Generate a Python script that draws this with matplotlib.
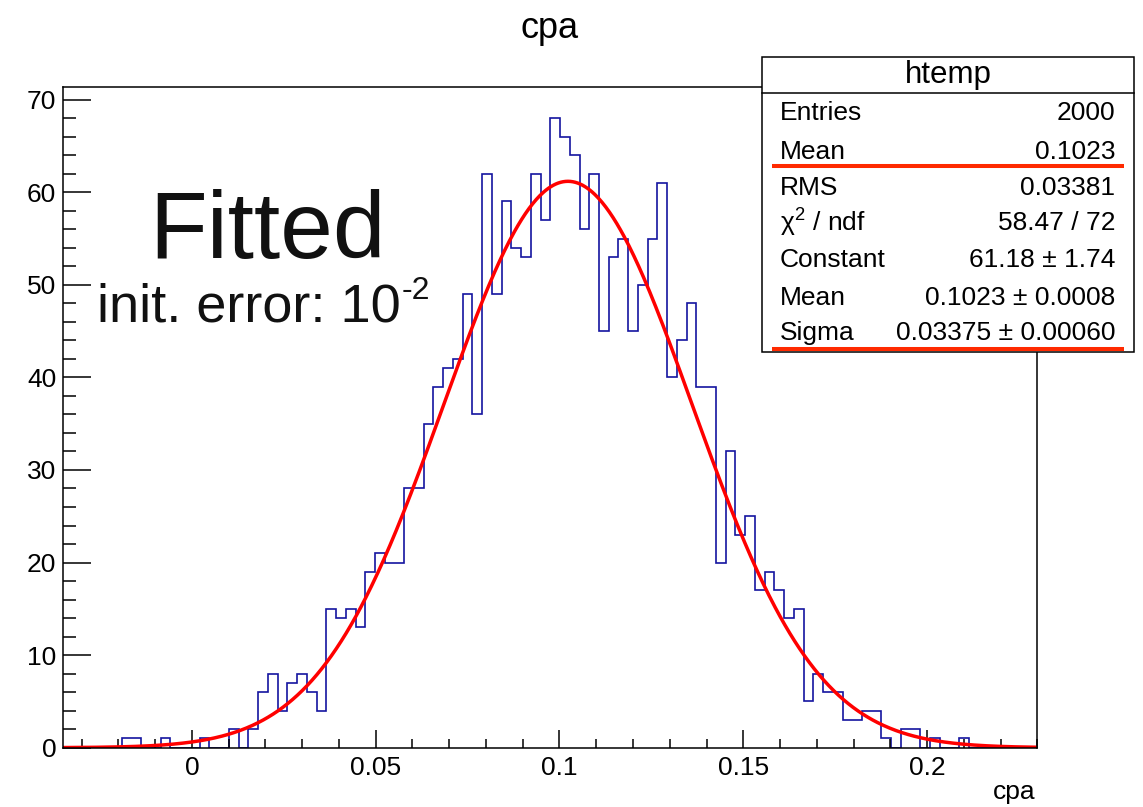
import numpy as np
import matplotlib
matplotlib.use("Agg")
import matplotlib.pyplot as plt
from matplotlib.patches import Rectangle
from matplotlib.lines import Line2D
from matplotlib.ticker import MultipleLocator

# ---------------- data ----------------
XMIN, XMAX, NBINS = -0.035, 0.23, 100
counts = [0, 0, 0, 0, 0, 0, 1, 1, 0, 0,
          1, 0, 0, 0, 1, 0, 0, 2, 0, 2,
          6, 8, 4, 7, 8, 6, 4, 15, 14, 15,
          13, 19, 21, 20, 20, 28, 28, 35, 39, 41,
          42, 49, 36, 62, 49, 59, 54, 53, 62, 57,
          68, 66, 64, 56, 62, 45, 53, 55, 45, 50,
          55, 61, 40, 44, 48, 39, 39, 20, 32, 23,
          25, 17, 19, 17, 14, 15, 5, 8, 6, 6,
          3, 3, 4, 4, 1, 0, 2, 2, 0, 1,
          0, 0, 1, 0, 0, 0, 0, 0, 0, 0]
fit_constant = 61.18
fit_mean = 0.1023
fit_sigma = 0.03375

xtick_values = [0, 0.05, 0.1, 0.15, 0.2]
xtick_labels = ["0", "0.05", "0.1", "0.15", "0.2"]

stats_title = "htemp"
stats_names = ["Entries", "Mean", "RMS", "χ$^{2}$ / ndf", "Constant", "Mean", "Sigma"]
stats_values = ["2000", "0.1023", "0.03381", "58.47 / 72", "61.18 ± 1.74",
                "0.1023 ± 0.0008", "0.03375 ± 0.00060"]
underlined_rows = [1, 6]

note_big = "Fitted"
note_small = "init. error: 10"
note_exponent = "-2"

# ---------------- figure ----------------
W, H = 1143, 807
plt.rcParams['font.family'] = ['Liberation Sans', 'DejaVu Sans']
plt.rcParams['mathtext.default'] = 'regular'
fig = plt.figure(figsize=(W / 100, H / 100), dpi=100)


def fx(x):
    return x / W


def fy(y):
    return 1 - y / H


ax = fig.add_axes([fx(63.3), fy(747.7), 974 / W, 661 / H])
edges = np.linspace(XMIN, XMAX, NBINS + 1)
ax.stairs(counts, edges, color="#1414a0", lw=1.2, baseline=0)

xs = np.linspace(XMIN, XMAX, 800)
ax.plot(xs, fit_constant * np.exp(-0.5 * ((xs - fit_mean) / fit_sigma) ** 2),
        color="#ff0000", lw=2.5)

ax.set_xlim(XMIN, XMAX)
ax.set_ylim(0, 1.05 * max(counts))
ax.set_xticks(xtick_values)
ax.set_xticklabels(xtick_labels)
ax.xaxis.set_minor_locator(MultipleLocator(0.01))
ax.yaxis.set_major_locator(MultipleLocator(10))
ax.yaxis.set_minor_locator(MultipleLocator(2))
ax.tick_params(which="both", direction="in", top=False, right=False,
               width=1.1, labelsize=19, colors="black")
ax.tick_params(axis="x", which="major", length=13, pad=6)
ax.tick_params(axis="x", which="minor", length=6.5)
ax.tick_params(axis="y", which="major", length=20, pad=5)
ax.tick_params(axis="y", which="minor", length=9.5)
for s in ax.spines.values():
    s.set_linewidth(1.1)

# titles
fig.text(fx(550), fy(28), "cpa", ha="center", va="center", fontsize=26)
fig.text(fx(1036), fy(792), "cpa", ha="right", va="center", fontsize=19)

# annotations
fig.text(fx(149), fy(258), note_big, ha="left", va="baseline", fontsize=68,
         color="#111111")
t_small = fig.text(fx(97), fy(321), note_small, ha="left", va="baseline",
                   fontsize=39, color="#111111")
fig.canvas.draw()
bb = t_small.get_window_extent()
fig.text(fx(bb.x1 + 1), fy(299), note_exponent, ha="left", va="baseline",
         fontsize=23, color="#111111")

# stats box
bx0, by0, bx1, by1 = 761.7, 57.3, 1134.3, 351.7
box = Rectangle((fx(bx0), fy(by1)), (bx1 - bx0) / W, (by1 - by0) / H,
                transform=fig.transFigure, facecolor="white", edgecolor="black",
                lw=1.1, zorder=10)
fig.add_artist(box)
fig.add_artist(Line2D([fx(bx0), fx(bx1)], [fy(92.5), fy(92.5)],
                      transform=fig.transFigure, color="black", lw=1.1, zorder=11))
fig.text(fx((bx0 + bx1) / 2), fy(75), stats_title, ha="center", va="center",
         fontsize=22.5, zorder=12)
row_y = [113.3, 151.7, 188.3, 223, 260, 298.3, 333.3]
for i, (n, v) in enumerate(zip(stats_names, stats_values)):
    fig.text(fx(780), fy(row_y[i]), n, ha="left", va="center", fontsize=19, zorder=12)
    fig.text(fx(1115), fy(row_y[i]), v, ha="right", va="center", fontsize=19, zorder=12)
underline_y = {1: 166, 6: 349.3}
for r in underlined_rows:
    fig.add_artist(Line2D([fx(771.7), fx(1124)], [fy(underline_y[r])] * 2,
                          transform=fig.transFigure, color="#ff2a00", lw=2.9,
                          solid_capstyle="butt", zorder=13))

fig.savefig("out.png", dpi=100, facecolor="white")
